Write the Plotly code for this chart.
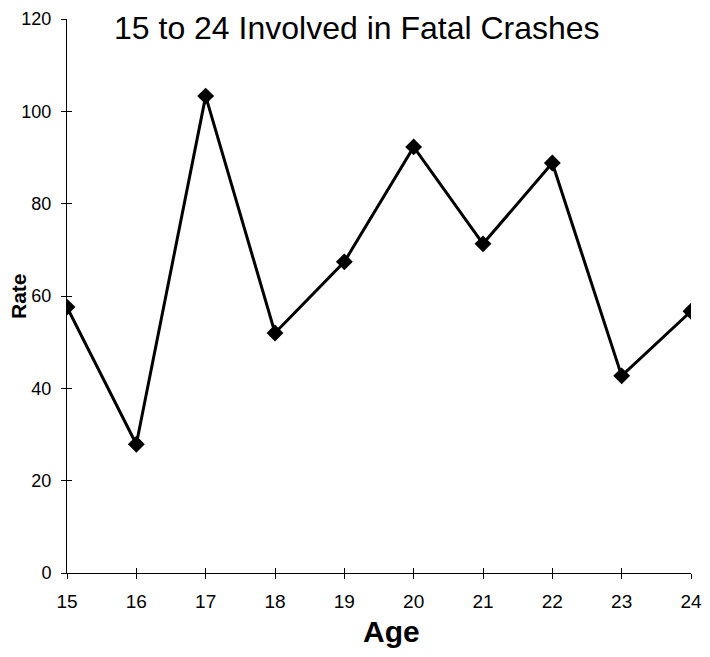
import plotly.graph_objects as go

# data
ages = [15, 16, 17, 18, 19, 20, 21, 22, 23, 24]
rates = [57.6, 27.9, 103.3, 52.0, 67.4, 92.3, 71.3, 88.8, 42.7, 56.7]
y_ticks = [0, 20, 40, 60, 80, 100, 120]

font = "Liberation Sans, Arial, sans-serif"

fig = go.Figure()
fig.add_trace(go.Scatter(
    x=ages, y=rates,
    mode="lines+markers",
    line=dict(color="black", width=3),
    marker=dict(symbol="diamond", size=13, color="black"),
    showlegend=False,
))
# invisible trace so the overlay axes (inside half of the ticks) get drawn
fig.add_trace(go.Scatter(x=ages, y=rates, xaxis="x2", yaxis="y2",
                         mode="none", showlegend=False, hoverinfo="skip"))

axis_common = dict(showgrid=False, zeroline=False, showline=True,
                   linecolor="black", linewidth=1, ticks="outside",
                   ticklen=5, tickcolor="black", tickwidth=1, automargin=False)

# page body has an 8px margin, so the figure is a bit smaller than the window
fig.update_layout(
    width=702, height=641,
    paper_bgcolor="white", plot_bgcolor="white",
    margin=dict(l=59, r=19, t=11, b=76),
    font=dict(family=font, color="black"),
    xaxis=dict(range=[15, 24], tickvals=ages, tickfont=dict(size=19),
               ticklabelstandoff=6, **axis_common),
    yaxis=dict(range=[0, 120], tickvals=y_ticks, tickfont=dict(size=18),
               ticklabelstandoff=6, **axis_common),
    xaxis2=dict(overlaying="x", range=[15, 24], tickvals=ages, showticklabels=False,
                showgrid=False, zeroline=False, ticks="inside", ticklen=5,
                tickcolor="black", side="bottom", automargin=False),
    yaxis2=dict(overlaying="y", range=[0, 120], tickvals=y_ticks, showticklabels=False,
                showgrid=False, zeroline=False, ticks="inside", ticklen=5,
                tickcolor="black", side="left", automargin=False),
    annotations=[
        dict(text="15 to 24 Involved in Fatal Crashes",
             xref="paper", yref="paper", x=0.465, y=1, xanchor="center", yanchor="top",
             yshift=11, showarrow=False, font=dict(size=32)),
        dict(text="<b>Age</b>", xref="paper", yref="paper", x=0.52, y=0,
             xanchor="center", yanchor="middle", yshift=-58, showarrow=False,
             font=dict(size=30)),
        dict(text="<b>Rate</b>", xref="paper", yref="paper", x=0, y=0.5,
             xanchor="center", yanchor="middle", xshift=-49, yshift=0,
             textangle=-90, showarrow=False, font=dict(size=21)),
    ],
)

fig.write_html("out.html")
